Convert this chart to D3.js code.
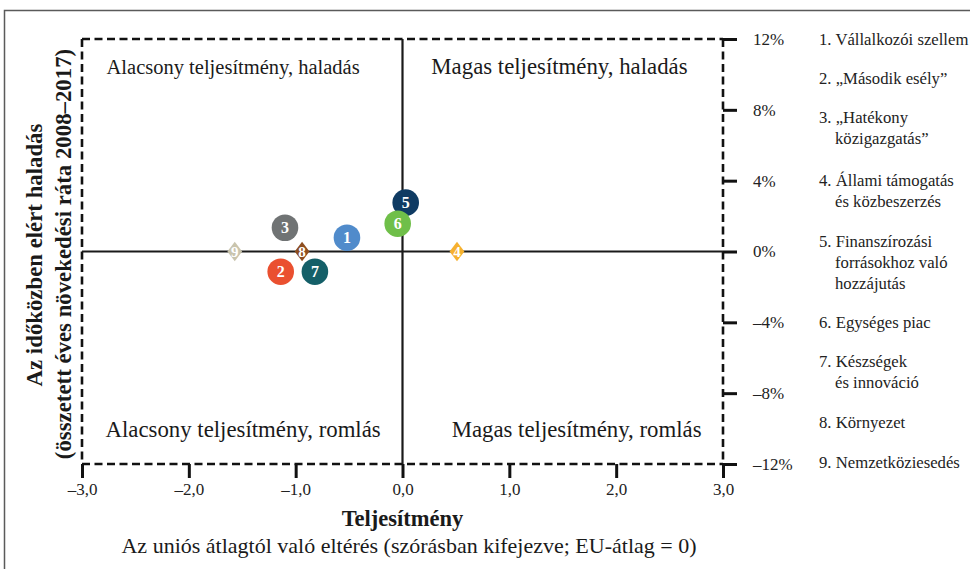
<!DOCTYPE html>
<html>
<head>
<meta charset="utf-8">
<script src="https://cdn.jsdelivr.net/npm/d3@7"></script>
<style>
  html, body { margin: 0; padding: 0; background: #fff; }
  svg { display: block; font-family: "Liberation Serif", "Times New Roman", serif; }
</style>
</head>
<body>
<svg id="chart" width="970" height="569"></svg>
<script>
// Policy areas: performance vs. EU average (std. deviations) and compound annual growth 2008–2017 (%)
const ids         = [1, 2, 3, 4, 5, 6, 7, 8, 9];
const performance = [-0.52, -1.14, -1.10, 0.51, 0.03, -0.045, -0.82, -0.94, -1.57];
const growth      = [0.78, -1.14, 1.34, 0.0, 2.76, 1.57, -1.14, 0.0, 0.0];
const markerShape = ["circle", "circle", "circle", "diamond", "circle", "circle", "circle", "diamond", "diamond"];
const markerColor = ["#508bcb", "#ea5030", "#707374", "#f6b12f", "#0f3b63", "#6fbf49", "#145f68", "#8e4e1f", "#c9c4ad"];

const legendLines = [
  ["1. Vállalkozói szellem"],
  ["2. „Második esély”"],
  ["3. „Hatékony", "közigazgatás”"],
  ["4. Állami támogatás", "és közbeszerzés"],
  ["5. Finanszírozási", "forrásokhoz való", "hozzájutás"],
  ["6. Egységes piac"],
  ["7. Készségek", "és innováció"],
  ["8. Környezet"],
  ["9. Nemzetköziesedés"]
];
const legendY = [39, 78, 117, 180, 241, 322, 361, 422, 462];

const xTicks = [-3, -2, -1, 0, 1, 2, 3];
const yTicks = [12, 8, 4, 0, -4, -8, -12];

// quadrant captions, anchored at their left edge (performance, growth %)
const quadrantLabels = [
  { text: "Alacsony teljesítmény, haladás", px: -2.77, py: 10.3, size: 20.5 },
  { text: "Magas teljesítmény, haladás",    px: 0.27,  py: 10.3, size: 22.8 },
  { text: "Alacsony teljesítmény, romlás",  px: -2.78, py: -10.2, size: 22.8 },
  { text: "Magas teljesítmény, romlás",     px: 0.46,  py: -10.2, size: 22.8 }
];

const svg = d3.select("#chart");

// outer frame
svg.append("rect")
  .attr("x", 4.5).attr("y", 10.5).attr("width", 990).attr("height", 600)
  .attr("fill", "none").attr("stroke", "#5a5a5a").attr("stroke-width", 1.5);

const x = d3.scaleLinear().domain([-3, 3]).range([82, 723]);
const y = d3.scaleLinear().domain([-12, 12]).range([464, 39]);

const fmtNum = v => (v < 0 ? "–" : "") + Math.abs(v).toFixed(1).replace(".", ",");
const fmtPct = v => (v < 0 ? "–" : "") + Math.abs(v) + "%";

// dashed plot border
const border = svg.append("g")
  .attr("fill", "none").attr("stroke", "#111").attr("stroke-width", 2.6)
  .attr("stroke-dasharray", "8,4.5");
border.append("line").attr("x1", x(-3)).attr("x2", x(3)).attr("y1", y(12)).attr("y2", y(12));
border.append("line").attr("x1", x(-3)).attr("x2", x(3)).attr("y1", y(-12)).attr("y2", y(-12));
border.append("line").attr("x1", x(-3)).attr("x2", x(-3)).attr("y1", y(12)).attr("y2", y(-12));
border.append("line").attr("x1", x(3)).attr("x2", x(3)).attr("y1", y(12)).attr("y2", y(-12));

// quadrant dividers
svg.append("line").attr("x1", x(0)).attr("x2", x(0)).attr("y1", y(12)).attr("y2", y(-12))
  .attr("stroke", "#1a1a1a").attr("stroke-width", 2.2);
svg.append("line").attr("x1", x(-3)).attr("x2", x(3)).attr("y1", y(0)).attr("y2", y(0))
  .attr("stroke", "#1a1a1a").attr("stroke-width", 2.2);

// bottom axis
const xAxis = svg.append("g")
  .attr("transform", `translate(0,${y(-12)})`)
  .call(d3.axisBottom(x).tickValues(xTicks).tickFormat(fmtNum).tickSize(14).tickPadding(5));
xAxis.select(".domain").remove();
xAxis.selectAll(".tick line").attr("stroke", "#111").attr("stroke-width", 3);
xAxis.selectAll(".tick text")
  .attr("font-family", "Liberation Serif, serif").attr("font-size", 17).attr("fill", "#222");

// right axis
const yAxis = svg.append("g")
  .attr("transform", `translate(${x(3)},0)`)
  .call(d3.axisRight(y).tickValues(yTicks).tickFormat(fmtPct).tickSize(14).tickPadding(16));
yAxis.select(".domain").remove();
yAxis.selectAll(".tick line").attr("stroke", "#111").attr("stroke-width", 3);
yAxis.selectAll(".tick text")
  .attr("font-family", "Liberation Serif, serif").attr("font-size", 17).attr("fill", "#222");

// quadrant labels
svg.append("g").selectAll("text").data(quadrantLabels).join("text")
  .attr("x", d => x(d.px)).attr("y", d => y(d.py))
  .attr("text-anchor", "start").attr("dominant-baseline", "middle")
  .attr("font-size", d => d.size).attr("fill", "#1a1a1a")
  .text(d => d.text);

// markers
const pts = ids.map((id, i) => ({ id, px: performance[i], py: growth[i], shape: markerShape[i], color: markerColor[i] }));
const mk = svg.append("g").selectAll("g").data(pts).join("g")
  .attr("transform", d => `translate(${x(d.px)},${y(d.py)})`);
mk.filter(d => d.shape === "circle").append("circle")
  .attr("r", 13.3).attr("fill", d => d.color);
mk.filter(d => d.shape === "diamond").append("path")
  .attr("d", "M0,-9.8L7.4,0L0,9.8L-7.4,0Z").attr("fill", d => d.color);
mk.append("text")
  .attr("text-anchor", "middle").attr("dy", "0.35em")
  .attr("font-weight", "bold")
  .attr("font-size", d => d.shape === "circle" ? 16 : 15)
  .attr("fill", "#fff")
  .text(d => d.id);

// legend
const leg = svg.append("g").selectAll("g").data(legendLines).join("g");
leg.each(function (lines, i) {
  const g = d3.select(this);
  lines.forEach((line, j) => {
    g.append("text")
      .attr("x", j === 0 ? 819 : 835)
      .attr("y", legendY[i] + j * 21)
      .attr("dy", "0.35em")
      .attr("font-size", 16.7).attr("fill", "#222")
      .text(line);
  });
});

// axis titles
svg.append("text")
  .attr("transform", `translate(37,255) rotate(-90)`)
  .attr("text-anchor", "middle").attr("dominant-baseline", "middle")
  .attr("font-size", 22.8).attr("font-weight", "bold").attr("fill", "#1a1a1a")
  .text("Az időközben elért haladás");
svg.append("text")
  .attr("transform", `translate(66,254) rotate(-90)`)
  .attr("text-anchor", "middle").attr("dominant-baseline", "middle")
  .attr("font-size", 22.8).attr("font-weight", "bold").attr("fill", "#1a1a1a")
  .text("(összetett éves növekedési ráta 2008–2017)");

svg.append("text")
  .attr("x", x(0)).attr("y", 521)
  .attr("text-anchor", "middle").attr("dominant-baseline", "middle")
  .attr("font-size", 22.5).attr("font-weight", "bold").attr("fill", "#1a1a1a")
  .text("Teljesítmény");
svg.append("text")
  .attr("x", 409).attr("y", 548)
  .attr("text-anchor", "middle").attr("dominant-baseline", "middle")
  .attr("font-size", 22).attr("fill", "#1a1a1a")
  .text("Az uniós átlagtól való eltérés (szórásban kifejezve; EU-átlag = 0)");
</script>
</body>
</html>
